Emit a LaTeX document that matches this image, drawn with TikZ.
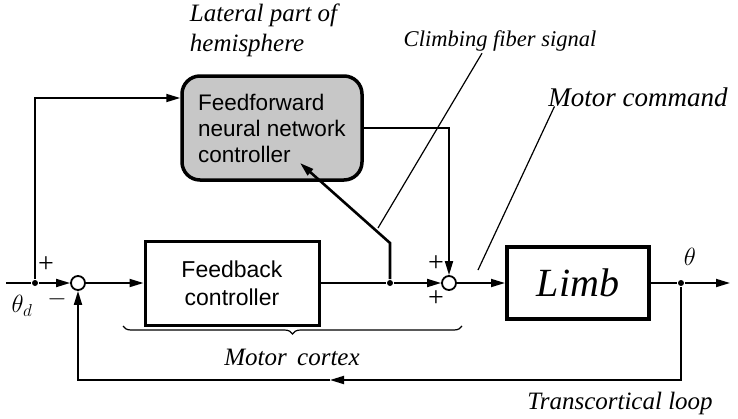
\documentclass[tikz,border=0pt]{standalone}
\usepackage{fontspec}
\setmainfont{Liberation Serif}
\setsansfont{Liberation Sans}
\usetikzlibrary{arrows.meta,decorations.pathreplacing}

\tikzstyle{ffbox}=[shape=rectangle, draw, line width=3.5pt, rounded corners=18pt, fill=black!22, minimum width=180pt, minimum height=104pt, align=left, inner sep=0pt, font=\sffamily\fontsize{22.5}{26}\selectfont]
\tikzstyle{fbbox}=[shape=rectangle, draw, line width=3pt, minimum width=174pt, minimum height=84pt, align=center, font=\sffamily\fontsize{23}{28}\selectfont]
\tikzstyle{limbbox}=[shape=rectangle, draw, line width=4pt, minimum width=142pt, minimum height=72pt, font=\itshape\fontsize{40}{40}\selectfont]
\tikzstyle{sumnode}=[shape=circle, draw, line width=1.8pt, fill=white, minimum size=14pt, inner sep=0pt]
\tikzstyle{dotnode}=[shape=circle, fill, minimum size=6pt, inner sep=0pt]
\tikzstyle{lbl}=[font=\itshape\fontsize{25}{30}\selectfont, inner sep=1pt]
\tikzstyle{sgn}=[font=\fontsize{28}{28}\selectfont, inner sep=0pt]
\tikzstyle{leader}=[line width=1.2pt]

\begin{document}
\begin{tikzpicture}[x=1pt, y=-1pt, line width=1.8pt, >={Triangle[length=14pt,width=8pt]}]
        \useasboundingbox (0,0) rectangle (738,418);
        % blocks
        \node[ffbox] at (272,128) (ffnn) {Feedforward\\neural network\\controller};
        \node[fbbox] at (232,283) (fbctl) {Feedback\\controller};
        \node[limbbox] at (578,283) (limb) {Limb};
        \node[sumnode] at (78,283) (sumA) {};
        \node[sumnode] at (449,283) (sumB) {};
        \node[dotnode] at (35,283) (split) {};
        \node[dotnode] at (390,283) (tap) {};
        \node[dotnode] at (681,283) (theta) {};
        \coordinate (thin) at (6,283);
        \coordinate (thout) at (730,283);
        \coordinate (ffin) at ([yshift=30pt]ffnn.west);
        \coordinate (tapbend) at (390,243);
        \coordinate (cfend) at (300,163);
        \coordinate (loopmid) at (330,380);
        \coordinate (cftip) at (378,228);
        \coordinate (mctip) at (478,270);
        % labels
        \node[lbl, align=left, anchor=north west] at (188,2) (lateral) {Lateral part of\\hemisphere};
        \node[lbl, font=\itshape\fontsize{22.5}{25}\selectfont] at (500,41) (cfs) {Climbing fiber signal};
        \node[lbl, font=\itshape\fontsize{27}{30}\selectfont] at (638,97) (mcmd) {Motor command};
        \node[lbl] at (292,357) (mcortex) {Motor\, cortex};
        \node[lbl] at (620,403) (tcloop) {Transcortical loop};
        \node[sgn, font=\fontsize{25}{25}\selectfont] at (690,257) (thlbl) {$\theta$};
        \node[sgn, font=\fontsize{25}{25}\selectfont] at (22,306) (thdlbl) {$\theta_d$};
        \node[sgn] at (46,265) (plusA) {+};
        \node[sgn] at (57,299) (minusA) {$-$};
        \node[sgn] at (436,264) (plusB) {+};
        \node[sgn] at (436,299) (plusC) {+};
        % connectors
        \draw (thin) -- (split);
        \draw [->] (split) -- (sumA);
        \draw [->] (split) |- (ffin);
        \draw [->] (sumA) -- (fbctl);
        \draw (fbctl) -- (tap);
        \draw [->] (tap) -- (sumB);
        \draw [->] (ffnn.east) -| (sumB.north);
        \draw [->] (sumB) -- (limb);
        \draw (limb) -- (theta);
        \draw [->] (theta) -- (thout);
        \draw [->] (theta) |- (loopmid);
        \draw [->] (loopmid) -| (sumA.south);
        \draw [->, line width=2.6pt] (tap) -- (tapbend) -- (cfend);
        \draw [leader] ([xshift=-18pt]cfs.south) -- (cftip);
        \draw [leader] ([xshift=8pt,yshift=2pt]mcmd.south west) -- (mctip);
        \draw [decorate, decoration={brace, mirror, amplitude=8pt}, line width=1.2pt] (123,326) -- (462,326);
    \end{tikzpicture}
\end{document}
